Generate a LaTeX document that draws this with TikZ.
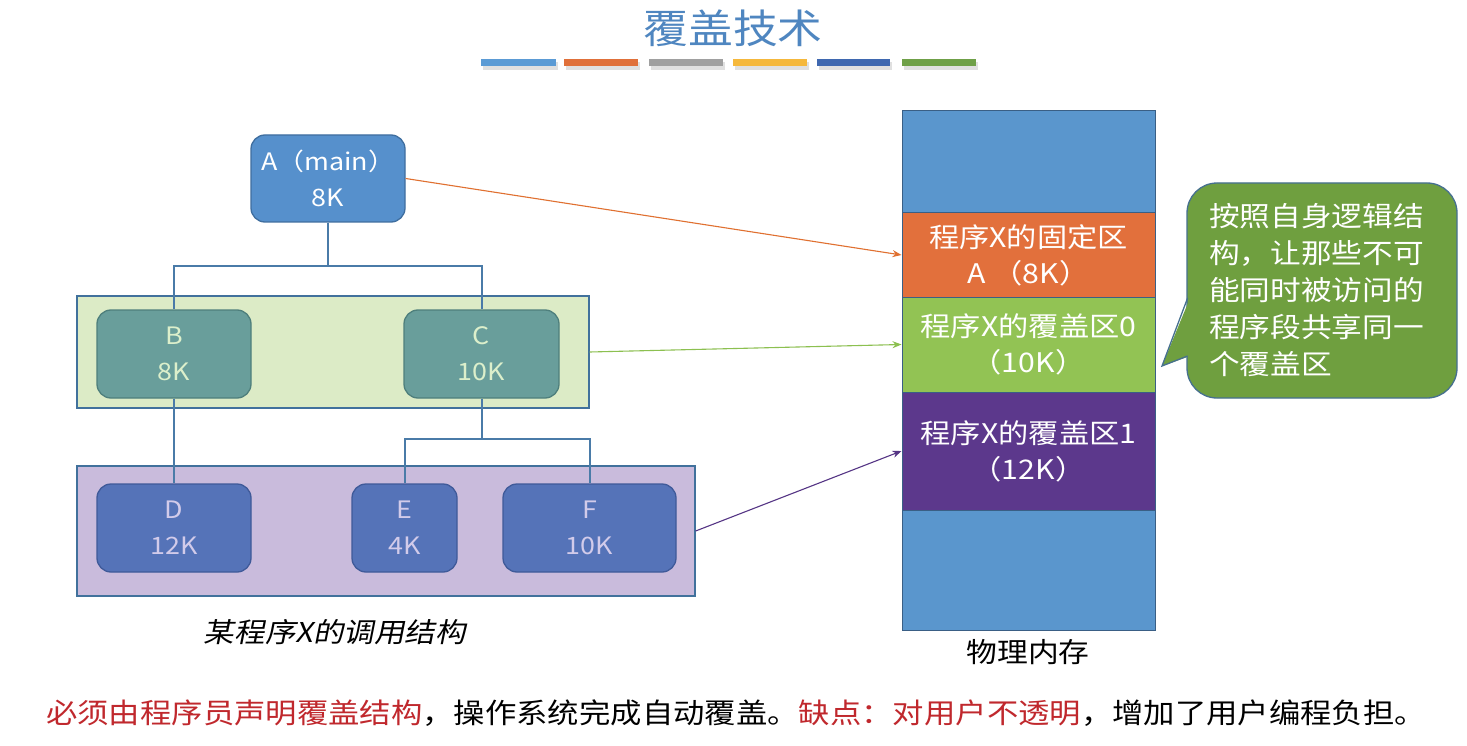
\documentclass[tikz,border=0pt]{standalone}
\usepackage{fontspec}
\setmainfont{Noto Sans CJK SC}[FakeStretch=1.12]
\newfontfamily\capfont{Noto Sans CJK SC}[FakeStretch=1.12,FakeSlant=0.2]
\usetikzlibrary{arrows.meta}
\definecolor{titleblue}{HTML}{4F86C0}
\definecolor{barblue}{HTML}{5B9BD5}
\definecolor{barorange}{HTML}{E0703A}
\definecolor{bargray}{HTML}{A0A0A0}
\definecolor{baryellow}{HTML}{F5B83C}
\definecolor{bardblue}{HTML}{3F68B0}
\definecolor{bargreen}{HTML}{6FA048}
\definecolor{afill}{HTML}{5690CC}
\definecolor{aborder}{HTML}{3F6E9F}
\definecolor{grpborder}{HTML}{41719C}
\definecolor{greengrp}{HTML}{DCEBC6}
\definecolor{bcfill}{HTML}{699E9B}
\definecolor{bcborder}{HTML}{4E7F7C}
\definecolor{bctext}{HTML}{DCEFCB}
\definecolor{purplegrp}{HTML}{C9BBDC}
\definecolor{deffill}{HTML}{5573B8}
\definecolor{defborder}{HTML}{3F5A99}
\definecolor{deftext}{HTML}{D2CBEA}
\definecolor{connc}{HTML}{4A7BA8}
\definecolor{memblue}{HTML}{5A96CD}
\definecolor{memorange}{HTML}{E2703C}
\definecolor{memgreen}{HTML}{92C354}
\definecolor{mempurple}{HTML}{5C388C}
\definecolor{memborder}{HTML}{3A5F85}
\definecolor{arrorange}{HTML}{E07030}
\definecolor{arrgreen}{HTML}{8CC050}
\definecolor{arrpurple}{HTML}{553585}
\definecolor{callfill}{HTML}{6F9F3F}
\definecolor{callborder}{HTML}{46708F}
\definecolor{notered}{HTML}{C0282D}
\tikzset{
  box/.style={draw, rounded corners=14pt, line width=1.3pt, align=center, inner sep=0pt,
    font=\fontsize{24}{36}\selectfont},
  grp/.style={draw=grpborder, line width=1.3pt, inner sep=0pt},
  conn/.style={draw=connc, line width=2pt},
  seg/.style={draw=memborder, line width=1pt, minimum width=253pt, inner sep=0pt,
    align=center, text=white, font=\fontsize{27}{36}\selectfont},
  arr/.style={-{Stealth[length=9pt,width=7pt]}, line width=1.1pt},
}
\begin{document}
\begin{tikzpicture}[x=1pt,y=-1pt]
\useasboundingbox (0,0) rectangle (1467,746);
\fill[white] (0,0) rectangle (1467,746);

% title
\node[text=titleblue, font=\fontsize{40}{48}\selectfont, inner sep=0pt] (title) at (733,28) {覆盖技术};

% colour bars with shadow
\foreach \a/\b/\c in {481/556/barblue,564/638/barorange,649/723/bargray,733/807/baryellow,817/890/bardblue,902/976/bargreen}{
  \fill[black, opacity=0.12] (\a+2,62) rectangle (\b+2,70);
  \fill[\c] (\a,59) rectangle (\b,66);
}

% groups
\node[grp, fill=greengrp, minimum width=512pt, minimum height=112pt] (ggrp) at (333,352) {};
\node[grp, fill=purplegrp, minimum width=618pt, minimum height=130pt] (pgrp) at (386,531) {};

% call-structure nodes
\node[box, fill=afill, draw=aborder, text=white, minimum width=154pt, minimum height=87pt] (A) at (328,178.5) {A（main）\\8K};
\node[box, fill=bcfill, draw=bcborder, text=bctext, minimum width=154pt, minimum height=88pt] (B) at (174,354) {B\\8K};
\node[box, fill=bcfill, draw=bcborder, text=bctext, minimum width=155pt, minimum height=88pt] (C) at (481.5,354) {C\\10K};
\node[box, fill=deffill, draw=defborder, text=deftext, minimum width=154pt, minimum height=88pt] (D) at (174,528) {D\\12K};
\node[box, fill=deffill, draw=defborder, text=deftext, minimum width=105pt, minimum height=88pt] (E) at (404.5,528) {E\\4K};
\node[box, fill=deffill, draw=defborder, text=deftext, minimum width=173pt, minimum height=88pt] (F) at (589.5,528) {F\\10K};

% connectors
\coordinate (abus) at (328,266);
\coordinate (cbus) at (481.5,439);
\draw[conn] (A.south) -- (abus);
\draw[conn] (abus) -| (B.north);
\draw[conn] (abus) -| (C.north);
\draw[conn] (B.south) -- (D.north);
\draw[conn] (C.south) -- (cbus);
\draw[conn] (cbus) -| (E.north);
\draw[conn] (cbus) -| (F.north);

% caption
\node[font=\capfont\fontsize{27.3}{32}\selectfont, inner sep=0pt] (cap) at (335,632) {某程序X的调用结构};

% physical memory
\node[seg, fill=memblue, minimum height=102pt] (m0) at (1028.5,162) {};
\node[seg, fill=memorange, minimum height=84pt] (m1) at (1028.5,255) {程序X的固定区\\A （8K）};
\node[seg, fill=memgreen, minimum height=95pt] (m2) at (1028.5,344.5) {程序X的覆盖区0\\（10K）};
\node[seg, fill=mempurple, minimum height=118pt] (m3) at (1028.5,451) {程序X的覆盖区1\\（12K）};
\node[seg, fill=memblue, minimum height=120pt] (m4) at (1028.5,570) {};
\node[font=\fontsize{27.5}{32}\selectfont, inner sep=0pt] (memlabel) at (1028,652) {物理内存};

% arrows
\draw[arr, arrorange] (A.east) -- (m1.west);
\draw[arr, arrgreen] (ggrp.east) -- (m2.west);
\draw[arr, arrpurple] (pgrp.east) -- (m3.west);

% callout
\node[draw=callborder, fill=callfill, line width=1.3pt, rounded corners=30pt,
  minimum width=270pt, minimum height=215pt, inner sep=0pt] (call) at (1322,290.5) {};
\coordinate (ptip) at (1162,366);
\fill[callfill] (1190,298) -- (ptip) -- (1190,356) -- cycle;
\draw[callborder, line width=1.3pt, line join=miter] (1187.6,298) -- (ptip) -- (1187.6,356);
\node[anchor=west, align=left, text=white, inner sep=0pt,
  font=\fontsize{27.4}{37}\selectfont] (calltext) at (1209,290) {按照自身逻辑结\\构，让那些不可\\能同时被访问的\\程序段共享同一\\个覆盖区};

% note
\node[anchor=west, inner sep=0pt, font=\fontsize{28}{34}\selectfont] (note) at (46,713)
  {\textcolor{notered}{必须由程序员声明覆盖结构}，操作系统完成自动覆盖。\textcolor{notered}{缺点：对用户不透明}，增加了用户编程负担。};
\end{tikzpicture}
\end{document}
